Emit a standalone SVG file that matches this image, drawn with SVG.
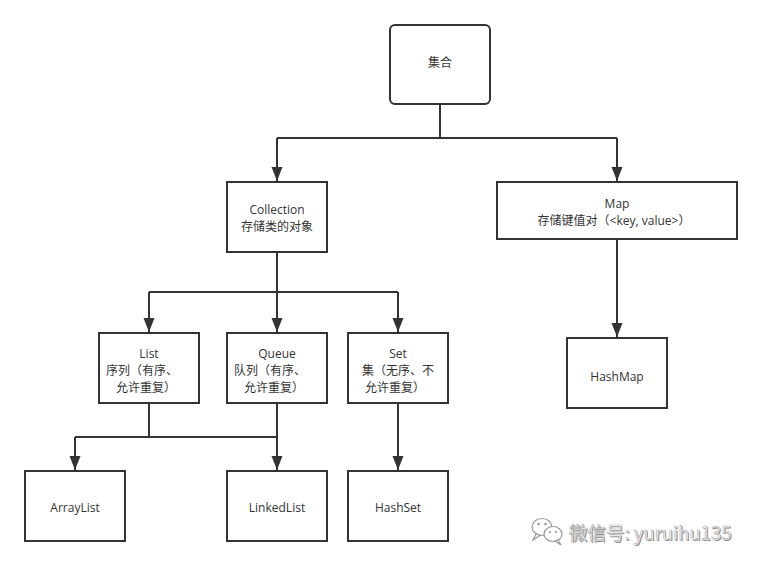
<svg xmlns="http://www.w3.org/2000/svg" width="762" height="566" viewBox="0 0 762 566">
<style>
.box{fill:#fff;stroke:#333;stroke-width:2}
.line{fill:none;stroke:#333;stroke-width:2}
.t{font-family:"Open Sans","Noto Sans CJK SC",sans-serif;font-size:12px;fill:#333;text-anchor:middle;dominant-baseline:central}
.wm{font-family:"Noto Sans CJK SC","Noto Sans",sans-serif;font-size:18.5px;dominant-baseline:central}
</style>
<defs>
<marker id="arr" markerUnits="userSpaceOnUse" markerWidth="12" markerHeight="16" viewBox="0 0 12 16" refX="6" refY="15" orient="0">
<polygon points="0.5,1 11.5,1 6,15" fill="#333"/>
</marker>
</defs>
<rect width="762" height="566" fill="#fff"/>
<g id="connectors">
<path class="line" d="M440,104 V138 M277,138 H617"/>
<path class="line" d="M277,138 V181" marker-end="url(#arr)"/>
<path class="line" d="M617,138 V181" marker-end="url(#arr)"/>
<path class="line" d="M617,239 V337" marker-end="url(#arr)"/>
<path class="line" d="M277,252 V292 M149,292 H398"/>
<path class="line" d="M149,292 V332" marker-end="url(#arr)"/>
<path class="line" d="M277,292 V332" marker-end="url(#arr)"/>
<path class="line" d="M398,292 V332" marker-end="url(#arr)"/>
<path class="line" d="M149,403 V437 M75,437 H277"/>
<path class="line" d="M75,437 V470" marker-end="url(#arr)"/>
<path class="line" d="M277,403 V470" marker-end="url(#arr)"/>
<path class="line" d="M398,403 V470" marker-end="url(#arr)"/>
</g>
<g id="jihe">
<rect class="box" x="390" y="25" width="100" height="79" rx="5"/>
<text class="t" x="440" y="62">集合</text>
</g>
<g id="collection">
<rect class="box" x="227" y="182" width="100" height="70"/>
<text class="t" x="277" y="209">Collection</text>
<text class="t" x="277" y="226">存储类的对象</text>
</g>
<g id="map">
<rect class="box" x="497" y="182" width="240" height="57"/>
<text class="t" x="617" y="203">Map</text>
<text class="t" x="614" y="220">存储键值对（&lt;key, value&gt;）</text>
</g>
<g id="list">
<rect class="box" x="99" y="333" width="100" height="70"/>
<text class="t" x="149" y="353">List</text>
<text class="t" x="142" y="370">序列（有序、</text>
<text class="t" x="146" y="387">允许重复）</text>
</g>
<g id="queue">
<rect class="box" x="227" y="333" width="100" height="70"/>
<text class="t" x="277" y="353">Queue</text>
<text class="t" x="270" y="370">队列（有序、</text>
<text class="t" x="274" y="387">允许重复）</text>
</g>
<g id="set">
<rect class="box" x="348" y="333" width="100" height="70"/>
<text class="t" x="398" y="353">Set</text>
<text class="t" x="398" y="370">集（无序、不</text>
<text class="t" x="395" y="387">允许重复）</text>
</g>
<g id="hashmap">
<rect class="box" x="567" y="338" width="100" height="70"/>
<text class="t" x="617" y="376">HashMap</text>
</g>
<g id="arraylist">
<rect class="box" x="25" y="471" width="100" height="70"/>
<text class="t" x="75" y="507">ArrayList</text>
</g>
<g id="linkedlist">
<rect class="box" x="227" y="471" width="100" height="70"/>
<text class="t" x="277" y="507">LinkedList</text>
</g>
<g id="hashset">
<rect class="box" x="348" y="471" width="100" height="70"/>
<text class="t" x="398" y="507">HashSet</text>
</g>
<g id="watermark">
<g fill="#fff" stroke="#999" stroke-width="1.2">
<ellipse cx="542" cy="527" rx="10" ry="8.5"/>
<path d="M536,534 L533,540 L540,535.5 Z"/>
<ellipse cx="553" cy="534" rx="9" ry="7.5"/>
<path d="M558,540 L561,545 L555,541 Z"/>
</g>
<g fill="#999">
<circle cx="538.5" cy="524" r="1.3"/>
<circle cx="545.5" cy="524" r="1.3"/>
<circle cx="550" cy="532" r="1.1"/>
<circle cx="556" cy="532" r="1.1"/>
</g>
<text class="wm" x="570" y="533" fill="#888">微信号: yuruihu135</text>
<text class="wm" x="569" y="532" fill="#fff" stroke="#aaa" stroke-width="0.6">微信号: yuruihu135</text>
</g>
</svg>
